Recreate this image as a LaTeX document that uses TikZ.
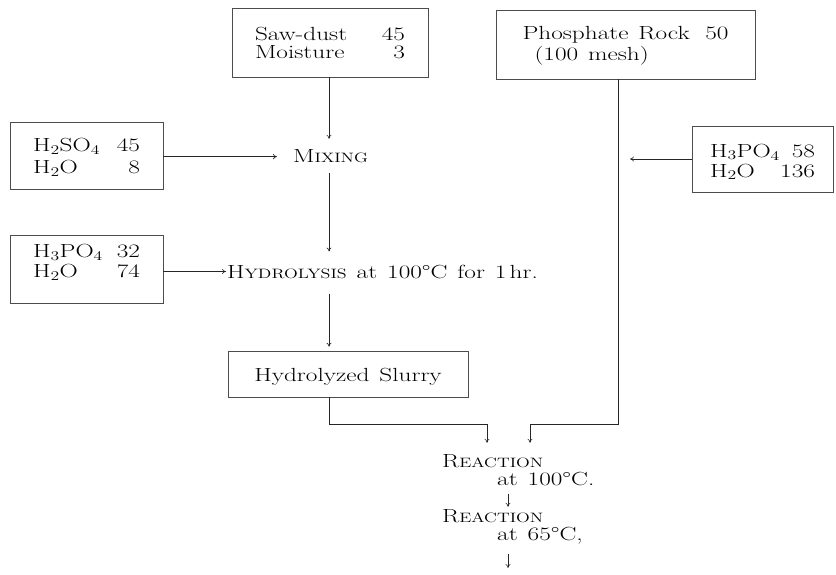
\documentclass[tikz,border=0pt]{standalone}
\usepackage{fontspec}
\setmainfont{Latin Modern Roman}[FakeStretch=1.33,WordSpace=1.3]
\usetikzlibrary{arrows.meta}
\setlength\lineskiplimit{-100pt}
\newcommand\fsc[2]{#1{\fontsize{13.6}{13.6}\selectfont #2}}
\newcommand\rowx[3]{\hbox to #1{#2\hfil #3}}
\newcommand\tup[1]{\rule{0pt}{#1}}
\newcommand\tdn[1]{\rule[-#1]{0pt}{#1}}
\begin{document}
\begin{tikzpicture}[x=1pt,y=-1pt,
  every node/.style={font=\fontsize{19}{16}\selectfont, inner sep=0pt},
  box/.style={draw=black!70, line width=0.6pt, align=left},
  lbl/.style={anchor=base west, align=left},
  conn/.style={draw=black!85, line width=0.6pt},
  arr/.style={conn, -{To[length=4pt,width=5pt]}}]
\useasboundingbox (0,0) rectangle (836,575);

% boxes
\node[box, minimum width=196pt, minimum height=69pt] (saw) at (330,42.5)
  {\tup{15pt}\rowx{150pt}{Saw-dust}{45}\\[2pt]\rowx{150pt}{Moisture}{3}};
\node[box, minimum width=259pt, minimum height=69pt] (phos) at (625.5,44.5)
  {\tup{16.75pt}\rowx{206pt}{Phosphate Rock}{50}\\[5pt]\rowx{206pt}{\hspace*{12pt}(100 mesh)}{}};
\node[box, minimum width=153pt, minimum height=67pt] (left1) at (86.5,155.5)
  {\tup{16.9pt}\rowx{107pt}{H\textsubscript{2}SO\textsubscript{4}}{45}\\[5.6pt]\rowx{107pt}{H\textsubscript{2}O}{8}};
\node[box, minimum width=153pt, minimum height=68pt] (left2) at (86.5,269)
  {\rowx{107pt}{H\textsubscript{3}PO\textsubscript{4}}{32}\\[4pt]\tdn{17pt}\rowx{107pt}{H\textsubscript{2}O}{74}};
\node[box, minimum width=141pt, minimum height=66pt] (right) at (762.5,159)
  {\tup{18.9pt}\rowx{105pt}{H\textsubscript{3}PO\textsubscript{4}}{58}\\[4pt]\rowx{105pt}{H\textsubscript{2}O}{136}};
\node[box, minimum width=240pt, minimum height=46pt] (slurry) at (348,374)
  {\tup{19.7pt}Hydrolyzed Slurry};

% process texts (base anchor = last line)
\node[lbl] (mix) at (293,163) {\fsc{M}{IXING}};
\node[lbl] (hyd) at (227,278) {\fsc{H}{YDROLYSIS} at 100°C for 1\,hr.};
\node[lbl] (r1) at (442,485) {\fsc{R}{EACTION}\\[2pt]\hspace*{55pt}at 100°C.};
\node[lbl] (r2) at (442,540) {\fsc{R}{EACTION}\\[2pt]\hspace*{55pt}at 65°C,};

% helper coordinates
\coordinate (cx) at (329,0);
\coordinate (px) at (618,0);
\coordinate (ax) at (508,0);
\coordinate (ja) at (487,424);
\coordinate (jb) at (530,424);
\coordinate (out) at (508,568);

% connectors
\draw[arr, shorten >=11pt] (saw.south -| cx) -- (mix.north -| cx);
\draw[arr, shorten <=10pt, shorten >=13pt] (mix.south -| cx) -- (hyd.north -| cx);
\draw[arr, shorten >=16pt] (left1.east |- mix.west) -- (mix.west);
\draw[arr, shorten >=1pt] (left2.east |- hyd.west) -- (hyd.west);
\draw[arr, shorten <=15pt, shorten >=4pt] (hyd.south -| cx) -- (slurry.north -| cx);
\draw[arr, shorten >=11pt] (slurry.south -| cx) |- (ja) -- (ja |- r1.north);
\draw[arr, shorten >=11pt] (phos.south -| px) |- (jb) -- (jb |- r1.north);
\draw[arr, shorten >=12pt] (right.west) -- (right.west -| px);
\draw[arr, shorten <=8pt, shorten >=2pt] (r1.south -| ax) -- (r2.north -| ax);
\draw[arr, shorten <=10pt] (r2.south -| ax) -- (out);
\end{tikzpicture}
\end{document}
